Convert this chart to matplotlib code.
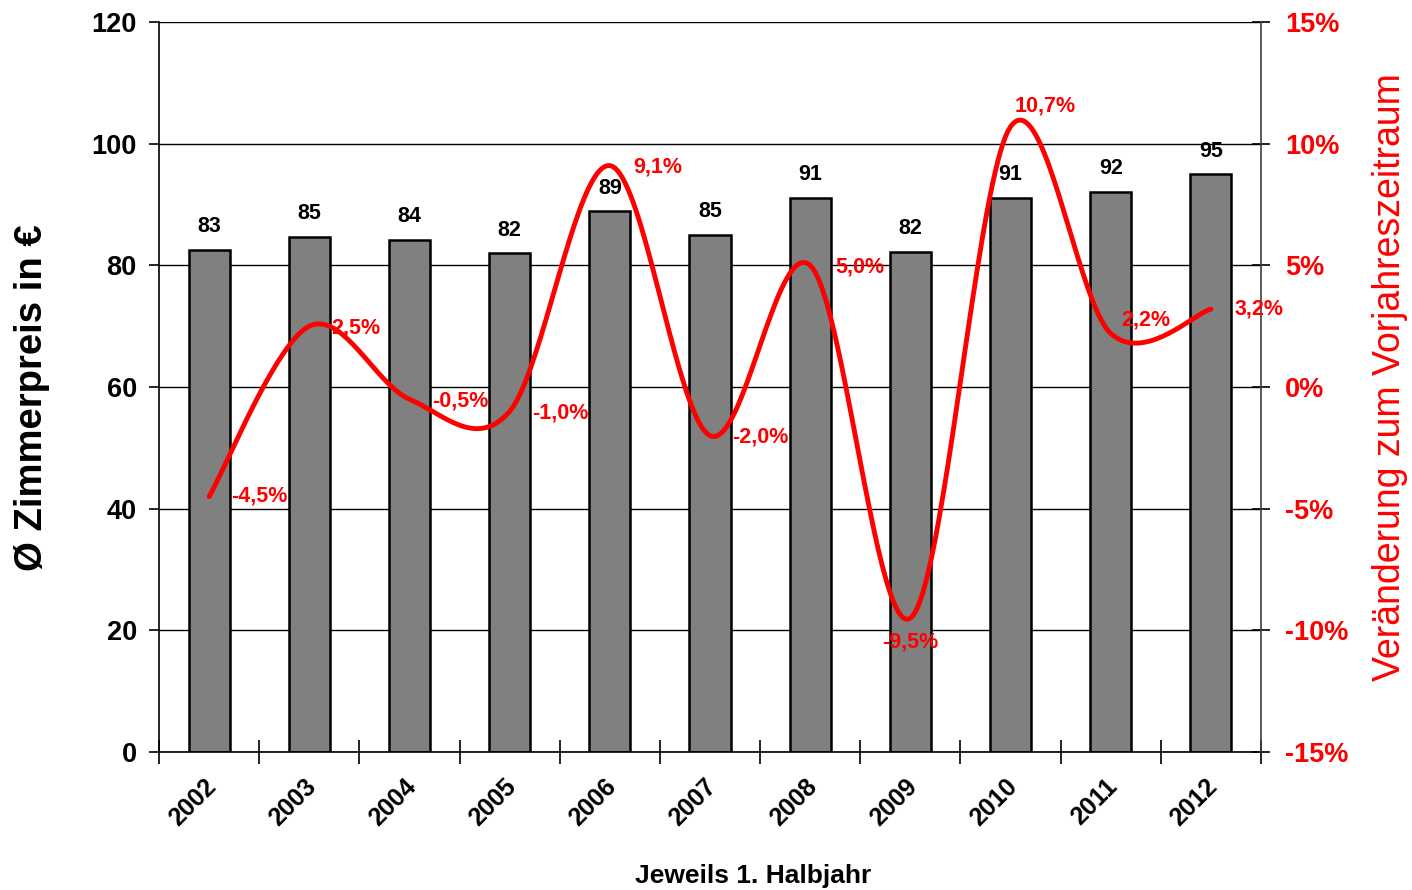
import numpy as np
import matplotlib
matplotlib.use("Agg")
import matplotlib.pyplot as plt
from matplotlib import transforms

# Data
years = ["2002", "2003", "2004", "2005", "2006", "2007", "2008", "2009", "2010", "2011", "2012"]
room_price = [82.6, 84.7, 84.2, 82.0, 88.9, 85.0, 91.1, 82.2, 91.1, 92.1, 95.0]
change_pct = [-4.5, 2.5, -0.5, -1.0, 9.1, -2.0, 5.0, -9.5, 10.7, 2.2, 3.2]

# Label offsets (points) for the percentage annotations and their alignment
pct_offsets = [(16, 0), (16, -1), (16, -1), (16, -1), (17, -1), (16, -1),
               (18, -1), (0, -17), (25, 15), (25, 10), (17, 0)]
pct_align = ["left", "left", "left", "left", "left", "left",
             "left", "center", "center", "center", "left"]

plt.rcParams['font.family'] = ['Liberation Sans', 'DejaVu Sans']

fig = plt.figure(figsize=(14.12, 8.9), dpi=100)
ax = fig.add_axes([159 / 1412, 1 - 752 / 890, (1261 - 159) / 1412, (752 - 22) / 890])

x = np.arange(len(years))
bars = ax.bar(x, room_price, width=0.41, color="#808080", edgecolor="black",
              linewidth=1.8, zorder=2)
for xi, v in zip(x, room_price):
    ax.annotate(f"{v:.0f}", (xi, v), xytext=(0, 9), textcoords="offset points",
                ha="center", va="bottom", fontsize=15.5, fontweight="bold",
                color="black")

ax.set_xlim(-0.5, len(years) - 0.5)
ax.set_ylim(0, 120)
ax.set_yticks(np.arange(0, 121, 20))
ax.yaxis.grid(True, color="black", linewidth=1.0)
ax.set_axisbelow(True)
for s in ["top", "right"]:
    ax.spines[s].set_visible(False)
ax.spines["left"].set_linewidth(1.2)
ax.spines["bottom"].set_linewidth(1.2)
ax.tick_params(axis="y", labelsize=19.5, length=7, width=1.2, pad=9)
for lab in ax.get_yticklabels():
    lab.set_fontweight("bold")

# category tick marks between the bars, labels centred under bars
ax.set_xticks(np.arange(-0.5, len(years)), minor=True)
ax.set_xticks(x)
ax.set_xticklabels(years, rotation=45, ha="right", va="center",
                   rotation_mode="anchor", fontsize=18, fontweight="bold")
ax.tick_params(axis="x", which="major", length=0, pad=22)
ax.tick_params(axis="x", which="minor", length=17, width=1.2, direction="inout")
shift = transforms.ScaledTranslation(3 / 100, 0, fig.dpi_scale_trans)
for lab in ax.get_xticklabels():
    lab.set_transform(lab.get_transform() + shift)

ax.set_ylabel("Ø Zimmerpreis in €", fontsize=27.5, fontweight="bold")
ax.set_xlabel("Jeweils 1. Halbjahr", fontsize=19, fontweight="bold")
ax.xaxis.set_label_coords(0.539, -0.154)
ax.yaxis.set_label_coords(-0.099, 0.486)

# secondary axis: year-on-year change
ax2 = ax.twinx()
ax2.set_ylim(-15, 15)
ax2.set_yticks(np.arange(-15, 16, 5))
ax2.set_yticklabels([f"{t}%" for t in range(-15, 16, 5)])
for s in ["top", "left", "bottom"]:
    ax2.spines[s].set_visible(False)
ax2.spines["right"].set_linewidth(1.2)
ax2.spines["right"].set_color("#404040")
ax2.tick_params(axis="y", labelsize=19.5, labelcolor="red", length=13, width=1.2,
                direction="inout", pad=11)
for lab in ax2.get_yticklabels():
    lab.set_fontweight("bold")
ax2.set_ylabel("Veränderung zum Vorjahreszeitraum", fontsize=27, color="red")
ax2.yaxis.set_label_coords(1.101, 0.514)

# smoothed line (uniform Catmull-Rom through the yearly points)
P = np.column_stack([np.asarray(x, dtype=float), np.asarray(change_pct, dtype=float)])
Pext = np.vstack([P[0], P, P[-1]])
curve = []
t = np.linspace(0, 1, 40)
for i in range(1, len(Pext) - 2):
    p0, p1, p2, p3 = Pext[i - 1], Pext[i], Pext[i + 1], Pext[i + 2]
    c1 = p1 + (p2 - p0) / 6
    c2 = p2 - (p3 - p1) / 6
    seg = ((1 - t) ** 3)[:, None] * p1 + (3 * (1 - t) ** 2 * t)[:, None] * c1 \
        + (3 * (1 - t) * t ** 2)[:, None] * c2 + (t ** 3)[:, None] * p2
    curve.append(seg)
curve = np.vstack(curve)
ax2.plot(curve[:, 0], curve[:, 1], color="red", linewidth=3.5,
         solid_capstyle="round", zorder=3)

for xi, v, off, al in zip(x, change_pct, pct_offsets, pct_align):
    ax2.annotate(f"{v:.1f}%".replace(".", ","), (xi, v), xytext=off,
                 textcoords="offset points", ha=al, va="center",
                 fontsize=15.5, fontweight="bold", color="red")

fig.savefig("out.png", dpi=100)
